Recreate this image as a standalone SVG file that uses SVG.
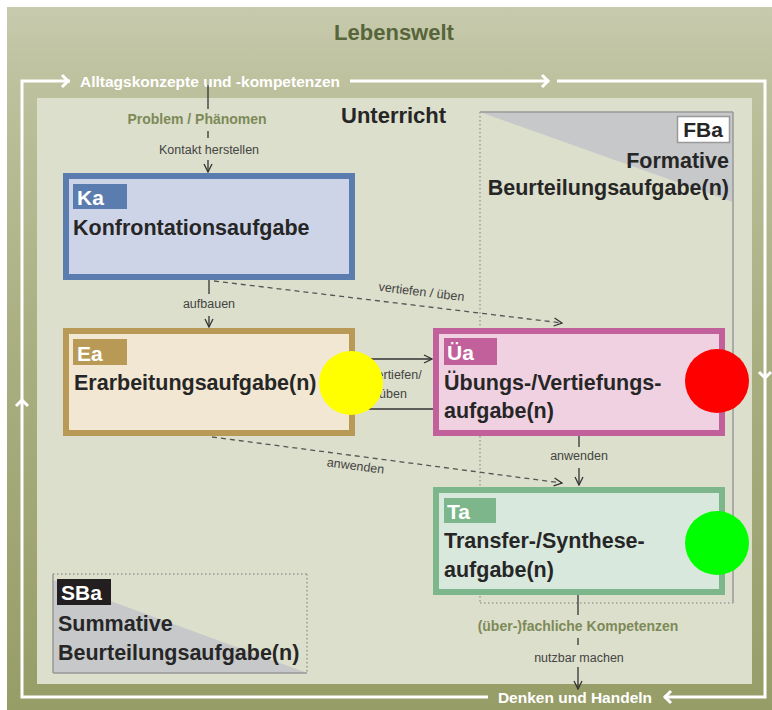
<svg xmlns="http://www.w3.org/2000/svg" width="772" height="710" viewBox="0 0 772 710">
<defs>
<linearGradient id="olive" x1="0" y1="0" x2="0" y2="1">
<stop offset="0" stop-color="#c7caad"/>
<stop offset="0.12" stop-color="#bcc09c"/>
<stop offset="0.5" stop-color="#a9ae80"/>
<stop offset="1" stop-color="#979d67"/>
</linearGradient>
<marker id="chev" viewBox="0 0 10 10" refX="9" refY="5" markerWidth="10" markerHeight="10" markerUnits="userSpaceOnUse" orient="auto">
<path d="M1,1 L9,5 L1,9" fill="none" stroke="#333" stroke-width="1.3"/>
</marker>
<style>
text{font-family:"Liberation Sans",Arial,sans-serif}
.big{font-size:21.5px;font-weight:bold;fill:#262626}
.tag{font-size:21px;font-weight:bold;fill:#fff}
.small{font-size:12.5px;fill:#444}
.olv{font-size:14px;font-weight:bold;fill:#7d8a58}
.wl{fill:none;stroke:#fff;stroke-width:3}
.wt{font-size:15.5px;font-weight:bold;fill:#fff}
.con{fill:none;stroke:#333;stroke-width:1.3}
.dash{fill:none;stroke:#555;stroke-width:1.3;stroke-dasharray:5 4}
</style>
</defs>
<rect x="0" y="0" width="772" height="710" fill="#ffffff"/>
<rect x="7" y="7" width="765" height="703" fill="url(#olive)"/>
<rect x="37" y="98" width="715" height="586" fill="#dcdfcb"/>
<text x="394" y="40" text-anchor="middle" style="font-size:22px;font-weight:bold;fill:#56653a">Lebenswelt</text>
<text x="341" y="123" style="font-size:22px;font-weight:bold;fill:#262626">Unterricht</text>

<g id="FBa">
<polygon points="480,112 733,112 733,202" fill="#c6c8ca"/>
<line x1="480" y1="112" x2="733" y2="112" stroke="#9a9a9a" stroke-width="1.5"/>
<line x1="733" y1="112" x2="733" y2="603" stroke="#9a9a9a" stroke-width="1.5"/>
<line x1="480" y1="112" x2="480" y2="603" stroke="#a0a0a0" stroke-width="1.5" stroke-dasharray="1.5 2.5"/>
<line x1="480" y1="603" x2="733" y2="603" stroke="#a0a0a0" stroke-width="1.5" stroke-dasharray="1.5 2.5"/>
<rect x="677.5" y="116.5" width="52" height="26" fill="#fff" stroke="#999" stroke-width="1.5"/>
<text x="703" y="137" text-anchor="middle" style="font-size:21px;font-weight:bold;fill:#262626">FBa</text>
<text x="729" y="168" text-anchor="end" class="big">Formative</text>
<text x="729" y="195" text-anchor="end" class="big">Beurteilungsaufgabe(n)</text>
</g>

<g id="SBa">
<polygon points="53,580 53,673 307,673" fill="#c6c8ca"/>
<line x1="53" y1="574" x2="53" y2="673" stroke="#999" stroke-width="1.5"/>
<line x1="53" y1="673" x2="307" y2="673" stroke="#999" stroke-width="1.5"/>
<line x1="53" y1="574" x2="307" y2="574" stroke="#999" stroke-width="1.5" stroke-dasharray="1.5 2.5"/>
<line x1="307" y1="574" x2="307" y2="673" stroke="#999" stroke-width="1.5" stroke-dasharray="1.5 2.5"/>
<rect x="57" y="579" width="54" height="26" fill="#231f20"/>
<text x="61" y="600" class="tag">SBa</text>
<text x="58" y="631" class="big">Summative</text>
<text x="58" y="660" class="big">Beurteilungsaufgabe(n)</text>
</g>

<g id="Ka">
<rect x="66" y="176" width="286" height="101" fill="#ced4e7" stroke="#5b7cae" stroke-width="6"/>
<rect x="73" y="184" width="54" height="25" fill="#5b7cae"/>
<text x="77" y="205" class="tag">Ka</text>
<text x="73" y="235" class="big">Konfrontationsaufgabe</text>
</g>

<g id="Ea">
<rect x="66" y="331" width="286" height="102" fill="#f1e7d3" stroke="#b89a56" stroke-width="6"/>
<rect x="73" y="339" width="54" height="26" fill="#b89a56"/>
<text x="77" y="361" class="tag">Ea</text>
<text x="74" y="390" class="big">Erarbeitungsaufgabe(n)</text>
</g>

<g id="Ua">
<rect x="436" y="331" width="286" height="102" fill="#efd1e1" stroke="#c2609b" stroke-width="6"/>
<rect x="444" y="338" width="53" height="27" fill="#c2609b"/>
<text x="447" y="360" class="tag">Üa</text>
<text x="444" y="390" class="big">Übungs-/Vertiefungs-</text>
<text x="444" y="418" class="big">aufgabe(n)</text>
</g>

<g id="Ta">
<rect x="436" y="490" width="286" height="102" fill="#d9e8dd" stroke="#7db68b" stroke-width="6"/>
<rect x="444" y="498" width="52" height="25" fill="#7db68b"/>
<text x="447" y="519" class="tag">Ta</text>
<text x="444" y="548" class="big">Transfer-/Synthese-</text>
<text x="444" y="577" class="big">aufgabe(n)</text>
</g>

<g id="connectors">
<polyline class="wl" points="70,81 22,81 22,697 488,697"/>
<path class="wl" d="M62,75 L68,81 L62,87"/>
<text x="80" y="86.5" class="wt">Alltagskonzepte und -kompetenzen</text>
<line class="wl" x1="350" y1="81" x2="549" y2="81"/>
<path class="wl" d="M542,75 L548,81 L542,87"/>
<polyline class="wl" points="557,81 765,81 765,697 664,697"/>
<path class="wl" d="M759,372 L765,378 L771,372"/>
<path class="wl" d="M16,406 L22,400 L28,406"/>
<path class="wl" d="M671,691 L665,697 L671,703"/>
<text x="575" y="702.5" text-anchor="middle" style="font-size:15.5px;font-weight:bold;fill:#fff">Denken und Handeln</text>

<line class="con" x1="208" y1="85" x2="208" y2="109"/>
<text x="197" y="124" text-anchor="middle" class="olv">Problem / Phänomen</text>
<line class="con" x1="208" y1="131" x2="208" y2="138"/>
<text x="209" y="154" text-anchor="middle" class="small">Kontakt herstellen</text>
<line class="con" x1="208" y1="160" x2="208" y2="172" marker-end="url(#chev)"/>

<line class="con" x1="209" y1="280" x2="209" y2="294"/>
<text x="209" y="308" text-anchor="middle" class="small">aufbauen</text>
<line class="con" x1="209" y1="316" x2="209" y2="327" marker-end="url(#chev)"/>

<line class="dash" x1="214" y1="281" x2="562" y2="323" marker-end="url(#chev)"/>
<text transform="translate(421,296) rotate(6.9)" text-anchor="middle" class="small">vertiefen / üben</text>

<line class="dash" x1="212" y1="437" x2="562" y2="483" marker-end="url(#chev)"/>
<text transform="translate(355,470) rotate(7.5)" text-anchor="middle" class="small">anwenden</text>

<line class="con" x1="355" y1="359" x2="432" y2="359" marker-end="url(#chev)"/>
<line class="con" x1="355" y1="409" x2="433" y2="409"/>
<text x="396" y="379" text-anchor="middle" class="small">vertiefen/</text>
<text x="393" y="398" text-anchor="middle" class="small">üben</text>

<line class="con" x1="579" y1="436" x2="579" y2="447"/>
<text x="579" y="460" text-anchor="middle" class="small">anwenden</text>
<line class="con" x1="579" y1="468" x2="579" y2="485" marker-end="url(#chev)"/>

<line class="con" x1="578" y1="595" x2="578" y2="615"/>
<text x="578" y="631" text-anchor="middle" class="olv">(über-)fachliche Kompetenzen</text>
<line class="con" x1="578" y1="638" x2="578" y2="645"/>
<text x="579" y="662" text-anchor="middle" class="small">nutzbar machen</text>
<line class="con" x1="578" y1="667" x2="578" y2="689" marker-end="url(#chev)"/>
</g>

<circle cx="351" cy="383" r="32" fill="#ffff00"/>
<circle cx="717" cy="381" r="32" fill="#ff0000"/>
<circle cx="717" cy="543" r="32" fill="#00ff00"/>
</svg>
